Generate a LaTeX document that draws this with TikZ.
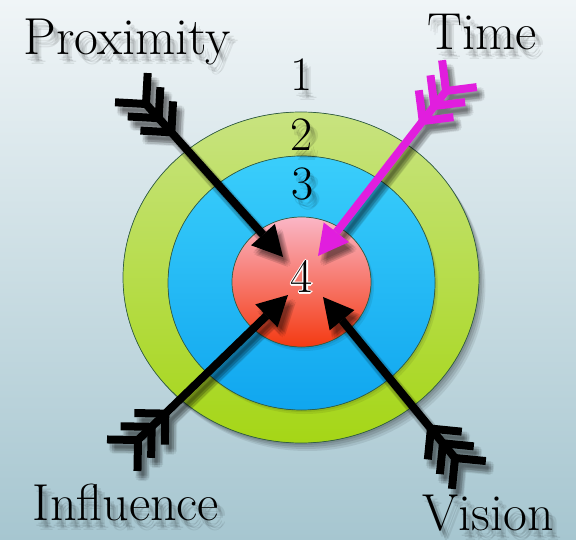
\documentclass[tikz,border=0pt]{standalone}
\usetikzlibrary{calc}
\definecolor{bgtop}{RGB}{240,245,247}
\definecolor{bgbot}{RGB}{166,198,208}
\definecolor{gtop}{RGB}{200,227,128}
\definecolor{gbot}{RGB}{165,214,22}
\definecolor{btop}{RGB}{58,206,251}
\definecolor{bbot}{RGB}{16,166,239}
\definecolor{rtop}{RGB}{250,182,198}
\definecolor{rmid}{RGB}{245,122,120}
\definecolor{rbot}{RGB}{244,58,18}
\definecolor{ringline}{RGB}{50,95,70}
\definecolor{mag}{RGB}{225,30,222}
\newcommand\labfont{\fontsize{52}{60}\selectfont}
\newcommand\numfont{\fontsize{48}{56}\selectfont}
% arrow: #1 tail (back fletch vertex), #2 tip, #3 colour
\newcommand\arrowbody[3]{%
  \coordinate (aS) at (#1);
  \coordinate (aT) at (#2);
  \coordinate (aH) at ($(aT)!30pt!(aS)$);
  \draw[line width=8pt,#3] (aS) -- (aH);
  \fill[#3] (aT) -- ($(aH)!16pt!90:(aT)$) -- ($(aH)!16pt!-90:(aT)$) -- cycle;
  \foreach \k in {0,1,2}{%
    \coordinate (aV) at ($(aS)!\k*19pt!(aT)$);
    \draw[line width=8pt,#3,miter limit=10]
      ($(aV)!31pt!135:(aT)$) -- (aV) -- ($(aV)!31pt!-135:(aT)$);
  }%
}
\newcommand\arrowshadow[2]{%
  \foreach \dx/\dy in {5/7,8/7,2/7,5/10,5/4,7/9,3/9,7/5,3/5}{%
    \begin{scope}[shift={(\dx,\dy)},transparency group,opacity=0.07]
      \arrowbody{#1}{#2}{black}
    \end{scope}}%
}
% text with soft shadow: #1 name, #2 position, #3 text, #4 font
\newcommand\shtext[4]{%
  \foreach \dx/\dy/\op in {5/7/0.10,8/8/0.08,2/6/0.08,6/10/0.08,4/4/0.08}{%
    \node[anchor=base,inner sep=0pt,text=black,opacity=\op,font=#4] at ($(#2)+(\dx,\dy)$) {#3};}%
  \node[anchor=base,inner sep=0pt,font=#4] (#1) at (#2) {#3};
}
\begin{document}
\begin{tikzpicture}[x=1pt,y=-1pt]
\useasboundingbox (0,0) rectangle (576,540);
\fill[top color=bgtop,bottom color=bgbot] (0,0) rectangle (576,540);

% ring shadows
\foreach \i/\op in {1/0.10,2/0.10,3/0.09,4/0.08}{%
  \fill[black,opacity=\op] (301+1.6*\i,277.5+2*\i) ellipse [x radius=178pt,y radius=165.5pt];}
\fill[top color=gtop,bottom color=gbot,draw=ringline,line width=0.7pt]
  (301,277.5) ellipse [x radius=178pt,y radius=165.5pt];
\foreach \i/\op in {1/0.08,2/0.07}{%
  \fill[black,opacity=\op] (301.5+1.5*\i,283+2*\i) ellipse [x radius=133.5pt,y radius=127pt];}
\fill[top color=btop,bottom color=bbot,draw=ringline,line width=0.7pt]
  (301.5,283) ellipse [x radius=133.5pt,y radius=127pt];
\foreach \i/\op in {1/0.08,2/0.07}{%
  \fill[black,opacity=\op] (301.5+1.5*\i,282+2*\i) ellipse [x radius=69.5pt,y radius=65pt];}
\fill[top color=rtop,middle color=rmid,bottom color=rbot,draw=ringline,line width=0.7pt]
  (301.5,282) ellipse [x radius=69.5pt,y radius=65pt];

% ring numbers
\shtext{n1}{302,91}{1}{\numfont}
\shtext{n2}{302,151}{2}{\numfont}
\shtext{n3}{303,200}{3}{\numfont}

% arrows
\arrowshadow{146,104}{283,257}
\arrowshadow{446,91}{318,256}
\arrowshadow{138,440}{288,295}
\arrowshadow{455,458}{323,297}
\arrowbody{146,104}{283,257}{black}
\arrowbody{446,91}{318,256}{mag}
\arrowbody{138,440}{288,295}{black}
\arrowbody{455,458}{323,297}{black}

% centre number with white outline
\foreach \a in {0,45,...,315}{%
  \node[anchor=base,inner sep=0pt,text=white,font=\numfont] at ($(302,293)+(\a:1.4pt)$) {4};}
\node[anchor=base,inner sep=0pt,font=\numfont] (n4) at (302,293) {4};

% labels
\shtext{prox}{127,55}{Proximity}{\labfont}
\shtext{time}{482,50}{Time}{\labfont}
\shtext{infl}{126,520}{Influence}{\labfont}
\shtext{visn}{488,530}{Vision}{\labfont}
\end{tikzpicture}
\end{document}
